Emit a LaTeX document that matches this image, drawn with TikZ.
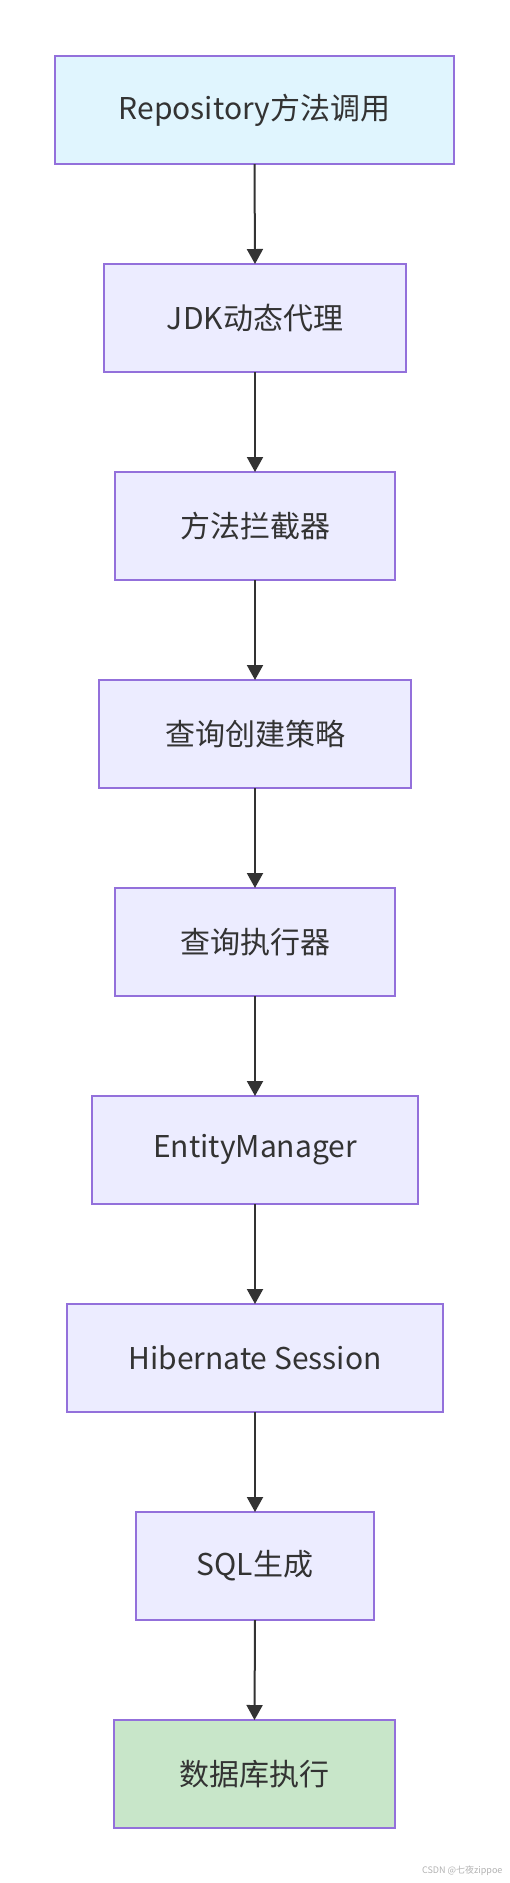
\documentclass[tikz,border=0pt]{standalone}
\usepackage{fontspec}
\setmainfont{Noto Sans CJK SC}
\usepackage{tikz}
\usetikzlibrary{positioning,arrows.meta}
\definecolor{boxfill}{HTML}{ECECFF}
\definecolor{boxline}{HTML}{9370DB}
\definecolor{startfill}{HTML}{E0F5FE}
\definecolor{endfill}{HTML}{C8E6C9}
\definecolor{ink}{HTML}{333333}
\tikzset{
  basic/.style  = {draw=boxline, line width=1.2pt, rectangle, fill=boxfill,
                   minimum height=108pt, inner sep=0pt, outer sep=0pt,
                   text=ink, font=\fontsize{30}{36}\selectfont},
  start/.style  = {basic, fill=startfill},
  finish/.style = {basic, fill=endfill},
  post/.style   = {-{Triangle[width=16pt,length=15pt]}, line width=2pt, draw=ink}
}
\begin{document}
\begin{tikzpicture}[x=1pt,y=1pt]
  \useasboundingbox (0,0) rectangle (509,-1883);
  \node[start,  minimum width=399pt] (repo)    at (254.5,-110)  {Repository方法调用};
  \node[basic,  minimum width=302pt] (proxy)   at (255,-318)    {JDK动态代理};
  \node[basic,  minimum width=280pt] (inter)   at (255,-526)    {方法拦截器};
  \node[basic,  minimum width=312pt] (create)  at (255,-734)    {查询创建策略};
  \node[basic,  minimum width=280pt] (exec)    at (255,-942)    {查询执行器};
  \node[basic,  minimum width=326pt] (em)      at (255,-1150)   {EntityManager};
  \node[basic,  minimum width=376pt] (session) at (255,-1358)   {Hibernate Session};
  \node[basic,  minimum width=238pt] (sql)     at (255,-1566)   {SQL生成};
  \node[finish, minimum width=281pt] (db)      at (254.5,-1774) {数据库执行};
  % connectors
  \draw[post] (repo.south)    -- (proxy.north);
  \draw[post] (proxy.south)   -- (inter.north);
  \draw[post] (inter.south)   -- (create.north);
  \draw[post] (create.south)  -- (exec.north);
  \draw[post] (exec.south)    -- (em.north);
  \draw[post] (em.south)      -- (session.north);
  \draw[post] (session.south) -- (sql.north);
  \draw[post] (sql.south)     -- (db.north);
  \node[text=black!30, font=\fontsize{9}{11}\selectfont, anchor=east] (mark) at (506,-1871) {CSDN @七夜zippoe};
\end{tikzpicture}
\end{document}
